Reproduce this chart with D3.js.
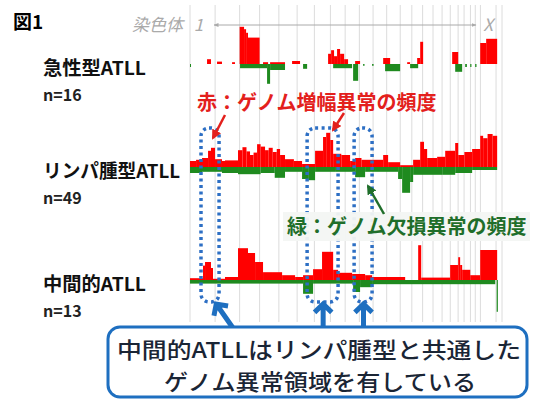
<!DOCTYPE html>
<html>
<head>
<meta charset="utf-8">
<script src="https://cdn.jsdelivr.net/npm/d3@7"></script>
<style>
  body { margin: 0; background: #fff; }
  text { font-family: "Noto Sans CJK JP", "Noto Sans", sans-serif; }
</style>
</head>
<body>
<svg id="chart"></svg>
<script>
// chromosome sizes (Mb)
const chromosomes = ['1','2','3','4','5','6','7','8','9','10','11','12','13','14','15','16','17','18','19','20','21','22','X','Y'];
const chromLengths = [249,243,198,191,181,171,159,146,141,136,135,134,115,107,103,90,81,78,59,63,48,51,155,59];

const groupNames = ['急性型ATLL', 'リンパ腫型ATLL', '中間的ATLL'];
const groupSizes = ['n=16', 'n=49', 'n=13'];

// segments: [start Mb (genome), end Mb, frequency %]
const acuteGain = [[169,208,8],[268,317,4],[417,446,3],[492,536,62],[536,556,58],[556,575,52],[575,690,44],
  [724,774,3],[794,942,3],[1012,1091,5],[1369,1399,17],[1399,1428,23],[1428,1458,13],[1458,1488,25],
  [1488,1528,17],[1528,1567,8],[1637,1686,5],[1915,1984,10],[2153,2182,3],[2252,2282,10],[2282,2311,37],
  [2599,2659,20],[2877,2936,35],[2936,3045,42]];
const acuteLoss = [[0,10,5],[496,764,7],[764,794,33],[794,942,10],[1121,1161,8],[1419,1607,7],[1617,1667,28],
  [1716,1730,3],[1805,1820,3],[1934,2083,12],[2182,2262,7],[2629,2698,13],[2728,2745,5],[2778,2790,5],[2827,2840,5]];

const lymphGain = [[0,60,10],[60,119,12],[119,179,15],[179,208,27],[208,248,32],[248,317,13],[317,347,10],
  [347,476,11],[476,520,28],[520,560,33],[560,595,26],[595,630,20],[630,665,24],[665,700,38],[700,744,34],
  [744,780,28],[780,820,32],[820,860,25],[860,893,30],[893,942,20],[942,1030,13],[1030,1111,10],[1111,1240,5],
  [1240,1319,27],[1319,1350,50],[1350,1390,57],[1390,1419,45],[1419,1500,22],[1500,1587,20],[1587,1637,10],
  [1637,1700,15],[1700,1805,12],[1805,1915,12],[1915,1964,20],[1964,2083,8],[2083,2212,3],[2212,2282,12],
  [2282,2320,42],[2320,2351,30],[2351,2450,15],[2450,2530,17],[2530,2629,27],[2629,2659,40],[2659,2720,20],
  [2720,2797,25],[2797,2877,30],[2877,2906,52],[2906,2950,48],[2950,3000,55],[3000,3045,52]];
const lymphLoss = [[0,119,10],[119,317,8],[317,476,10],[476,700,12],[700,840,10],[840,942,18],[942,1111,8],
  [1111,1171,20],[1171,1240,22],[1240,1438,8],[1438,1637,8],[1637,1736,17],[1736,2063,8],[2063,2103,20],
  [2103,2182,43],[2182,2212,25],[2212,2500,13],[2500,2629,13],[2629,2797,10],[2797,3045,5]];

const interGain = [[0,129,3],[129,149,24],[149,208,30],[208,228,20],[228,347,2],[347,476,5],[476,575,53],
  [575,645,45],[645,724,30],[724,813,13],[813,913,13],[913,1042,8],[1042,1121,5],[1121,1220,8],[1220,1309,18],
  [1309,1419,47],[1419,1468,17],[1468,1607,12],[1607,1736,10],[1736,1805,8],[1805,2133,5],[2262,2292,58],
  [2292,2579,4],[2579,2659,25],[2659,2678,38],[2678,2698,25],[2698,2778,17],[2778,2877,8],[2877,3045,50]];
const interLoss = [[0,1121,6],[1121,1220,23],[1220,1617,6],[1617,1686,20],[1686,1805,12],[1805,3026,7],[3040,3052,53]];

const tracks = [
  {gain: acuteGain, loss: acuteLoss},
  {gain: lymphGain, loss: lymphLoss},
  {gain: interGain, loss: interLoss}
];

const W = 537, H = 401;
const svg = d3.select('#chart').attr('width', W).attr('height', H);
svg.append('rect').attr('width', W).attr('height', H).attr('fill', '#fff');

const starts = d3.cumsum([0].concat(chromLengths));
const x = d3.scaleLinear().domain([0, starts[starts.length - 1]]).range([190, 502]);
const y = d3.scaleLinear().domain([0, 100]).range([0, 60]);
const baselines = [64, 167, 280];

// chromosome grid
svg.append('g').selectAll('line').data(starts).join('line')
  .attr('x1', d => x(d)).attr('x2', d => x(d))
  .attr('y1', 5).attr('y2', 322)
  .attr('stroke', '#dcdcdc').attr('stroke-width', 1);

// tracks
tracks.forEach((t, i) => {
  const g = svg.append('g').attr('transform', `translate(0,${baselines[i]})`);
  g.selectAll('rect.gain').data(t.gain).join('rect').attr('class', 'gain')
    .attr('x', d => x(d[0])).attr('width', d => Math.max(x(d[1]) - x(d[0]), 0.8))
    .attr('y', d => -y(d[2])).attr('height', d => y(d[2]))
    .attr('fill', '#f00');
  g.selectAll('rect.loss').data(t.loss).join('rect').attr('class', 'loss')
    .attr('x', d => x(d[0])).attr('width', d => Math.max(x(d[1]) - x(d[0]), 0.8))
    .attr('y', 0).attr('height', d => y(d[2]))
    .attr('fill', '#1f8a1f');
});

// left labels
const labelWidths = [103, 137, 103];
const lab = svg.append('g');
groupNames.forEach((name, i) => {
  lab.append('text').attr('x', 43).attr('y', baselines[i] + 11)
    .attr('font-size', 19).attr('font-weight', 'bold').attr('fill', '#111')
    .attr('textLength', labelWidths[i]).attr('lengthAdjust', 'spacingAndGlyphs').text(name);
  lab.append('text').attr('x', 43).attr('y', baselines[i] + 37)
    .attr('font-size', 16).attr('font-weight', 'bold').attr('fill', '#222').text(groupSizes[i]);
});

svg.append('text').attr('x', 13).attr('y', 29).attr('font-size', 19).attr('font-weight', 'bold').text('図1');

// chromosome axis header
const chrMid = i => x(starts[i] + chromLengths[i] / 2);
svg.append('text').attr('x', 183).attr('y', 31).attr('text-anchor', 'end')
  .attr('font-size', 17).attr('font-style', 'italic').attr('fill', '#aaa').text('染色体');
svg.append('text').attr('x', chrMid(0) - 4).attr('y', 31).attr('text-anchor', 'middle')
  .attr('font-size', 17).attr('font-style', 'italic').attr('fill', '#aaa').text(chromosomes[0]);
svg.append('text').attr('x', chrMid(22)).attr('y', 31).attr('text-anchor', 'middle')
  .attr('font-size', 17).attr('font-style', 'italic').attr('fill', '#aaa').text(chromosomes[22]);
const defs = svg.append('defs');
defs.append('marker').attr('id', 'ga').attr('viewBox', '0 0 10 10').attr('refX', 9).attr('refY', 5)
  .attr('markerWidth', 5).attr('markerHeight', 5).attr('orient', 'auto-start-reverse')
  .append('path').attr('d', 'M0,1L10,5L0,9z').attr('fill', '#aaa');
svg.append('line').attr('x1', 214).attr('x2', 476).attr('y1', 25).attr('y2', 25)
  .attr('stroke', '#aaa').attr('stroke-width', 1)
  .attr('marker-start', 'url(#ga)').attr('marker-end', 'url(#ga)');

// dotted highlight boxes
const boxes = [[109, 288], [1161, 1468], [1627, 1805]];
svg.append('g').selectAll('rect').data(boxes).join('rect')
  .attr('x', d => x(d[0])).attr('width', d => x(d[1]) - x(d[0]))
  .attr('y', 128).attr('height', 174).attr('rx', 8)
  .attr('fill', 'none').attr('stroke', '#2d6fc4').attr('stroke-width', 3.5)
  .attr('stroke-dasharray', '3,3.5');

// red label and arrows
defs.append('marker').attr('id', 'ra').attr('viewBox', '0 0 10 10').attr('refX', 8).attr('refY', 5)
  .attr('markerWidth', 4).attr('markerHeight', 4).attr('orient', 'auto')
  .append('path').attr('d', 'M0,0L10,5L0,10z').attr('fill', '#e3201c');
svg.append('text').attr('x', 197).attr('y', 110).attr('font-size', 20).attr('font-weight', 'bold')
  .attr('fill', '#e3201c').text('赤：ゲノム増幅異常の頻度');
[[225, 115, 213, 138], [344, 113, 333, 130]].forEach(a => {
  svg.append('line').attr('x1', a[0]).attr('y1', a[1]).attr('x2', a[2]).attr('y2', a[3])
    .attr('stroke', '#e3201c').attr('stroke-width', 2.5).attr('marker-end', 'url(#ra)');
});

// green label
defs.append('marker').attr('id', 'gr').attr('viewBox', '0 0 10 10').attr('refX', 8).attr('refY', 5)
  .attr('markerWidth', 4).attr('markerHeight', 4).attr('orient', 'auto')
  .append('path').attr('d', 'M0,0L10,5L0,10z').attr('fill', '#1f6e2a');
svg.append('rect').attr('x', 283).attr('y', 212).attr('width', 247).attr('height', 29)
  .attr('fill', '#f3f5f3').attr('opacity', 0.95);
svg.append('text').attr('x', 287).attr('y', 234).attr('font-size', 20).attr('font-weight', 'bold')
  .attr('fill', '#1f6e2a').text('緑：ゲノム欠損異常の頻度');
svg.append('line').attr('x1', 384).attr('y1', 214).attr('x2', 368).attr('y2', 186)
  .attr('stroke', '#1f6e2a').attr('stroke-width', 2.5).attr('marker-end', 'url(#gr)');

// blue arrows to callout
const blue = '#1e6fc0';
[[x(260), 304, x(440), 330], [x(1320), 304, x(1320), 330], [x(1720), 304, x(1720), 330]].forEach(a => {
  const ang = Math.atan2(a[3] - a[1], a[2] - a[0]);
  const hl = 12, spread = 0.8;
  const p1 = [a[0] + hl * Math.cos(ang - spread), a[1] + hl * Math.sin(ang - spread)];
  const p2 = [a[0] + hl * Math.cos(ang + spread), a[1] + hl * Math.sin(ang + spread)];
  svg.append('path').attr('d', `M${a[2]},${a[3]}L${a[0]},${a[1]}M${p1}L${a[0]},${a[1]}L${p2}`)
    .attr('fill', 'none').attr('stroke', blue).attr('stroke-width', 5)
    .attr('stroke-linejoin', 'miter').attr('stroke-linecap', 'butt');
});

// callout box
svg.append('rect').attr('x', 108).attr('y', 327).attr('width', 419).attr('height', 70).attr('rx', 12)
  .attr('fill', '#fff').attr('stroke', blue).attr('stroke-width', 3);
svg.append('text').attr('x', 117).attr('y', 358)
  .attr('font-size', 22).attr('font-weight', 500).attr('fill', '#1a2535')
  .attr('textLength', 404).attr('lengthAdjust', 'spacingAndGlyphs')
  .text('中間的ATLLはリンパ腫型と共通した');
svg.append('text').attr('x', 164).attr('y', 390)
  .attr('font-size', 22).attr('font-weight', 500).attr('fill', '#1a2535')
  .attr('textLength', 312).attr('lengthAdjust', 'spacingAndGlyphs')
  .text('ゲノム異常領域を有している');
</script>
</body>
</html>
